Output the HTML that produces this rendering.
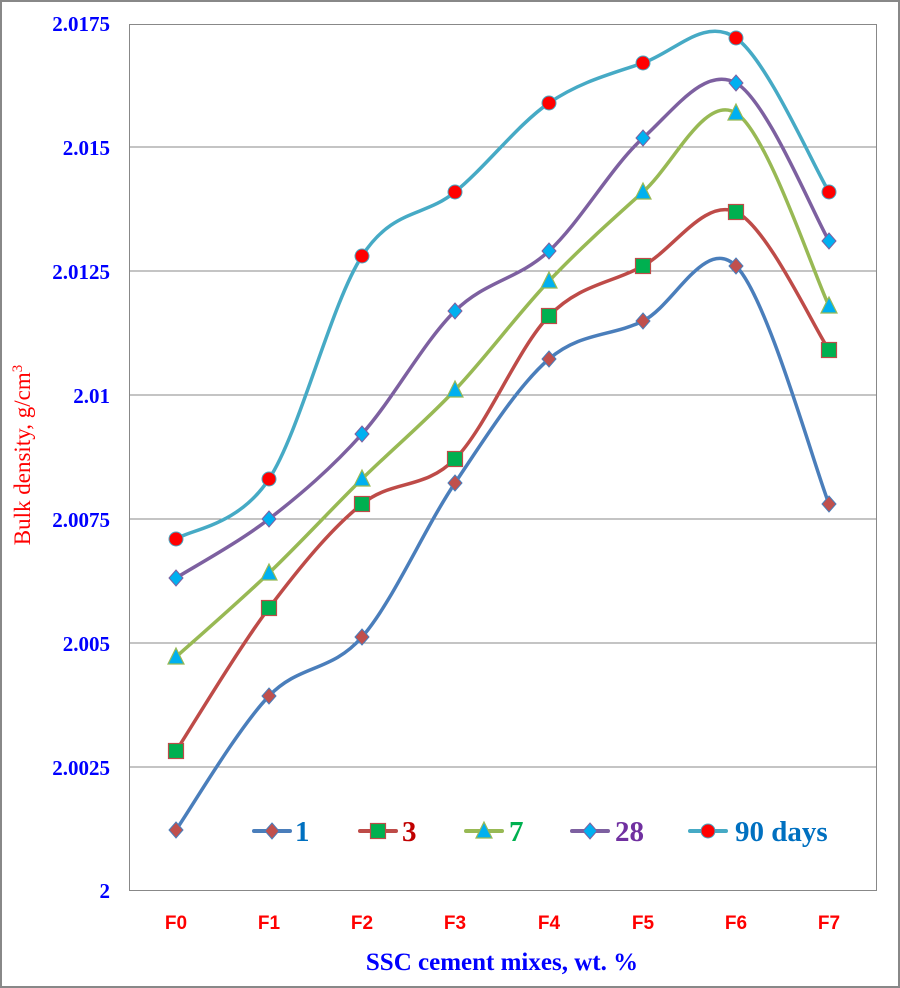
<!DOCTYPE html>
<html><head><meta charset="utf-8"><style>
html,body{margin:0;padding:0;background:#fff}
svg{display:block}
</style></head><body>
<svg id="s" width="900" height="988" xmlns="http://www.w3.org/2000/svg">
<rect x="1" y="1" width="898" height="986" fill="#fff" stroke="#888" stroke-width="2"/>
<g stroke="#888" stroke-width="1">
<line x1="129" y1="147" x2="877" y2="147"/>
<line x1="129" y1="271" x2="877" y2="271"/>
<line x1="129" y1="395" x2="877" y2="395"/>
<line x1="129" y1="519" x2="877" y2="519"/>
<line x1="129" y1="643" x2="877" y2="643"/>
<line x1="129" y1="767" x2="877" y2="767"/>
</g>
<rect x="129.5" y="24.5" width="747" height="866" fill="none" stroke="#888" stroke-width="1"/>
<g font-family="Liberation Serif, serif" font-weight="bold" font-size="21" fill="#0000ff" text-anchor="end">
<text x="110" y="31">2.0175</text>
<text x="110" y="155">2.015</text>
<text x="110" y="279">2.0125</text>
<text x="110" y="403">2.01</text>
<text x="110" y="527">2.0075</text>
<text x="110" y="651">2.005</text>
<text x="110" y="775">2.0025</text>
<text x="110" y="898">2</text>
</g>
<g font-family="Liberation Sans, sans-serif" font-weight="bold" font-size="19" fill="#ff0000" text-anchor="middle">
<text x="176" y="929">F0</text><text x="269" y="929">F1</text><text x="362" y="929">F2</text><text x="455" y="929">F3</text>
<text x="549" y="929">F4</text><text x="643" y="929">F5</text><text x="736" y="929">F6</text><text x="829" y="929">F7</text>
</g>
<text x="502" y="970" font-family="Liberation Serif, serif" font-weight="bold" font-size="25" fill="#0000ff" text-anchor="middle">SSC cement mixes, wt. %</text>
<text transform="translate(30,455) rotate(-90)" font-family="Liberation Serif, serif" font-size="23" fill="#ff0000" text-anchor="middle">Bulk density, g/cm<tspan baseline-shift="super" font-size="15">3</tspan></text>
<g id="series"></g>
<g id="legend" font-family="Liberation Serif, serif" font-weight="bold" font-size="29"></g>
</svg>
<script>
var xs=[176,269,362,455,549,643,736,829];
var S=[
{c:"#4A7EBB",m:"d",f:"#C0504D",st:"#4A7EBB",y:[830,696,637,483,359,321,266,504],lab:"1",lc:"#0070C0"},
{c:"#BE4B48",m:"s",f:"#00B050",st:"#BE4B48",y:[751,608,504,459,316,266,212,350],lab:"3",lc:"#C00000"},
{c:"#98B954",m:"t",f:"#00B0F0",st:"#98B954",y:[657,573,479,390,281,192,113,306],lab:"7",lc:"#00B050"},
{c:"#7D60A0",m:"d",f:"#00B0F0",st:"#7D60A0",y:[578,519,434,311,251,138,83,241],lab:"28",lc:"#7030A0"},
{c:"#46AAC5",m:"c",f:"#FF0000",st:"#46AAC5",y:[539,479,256,192,103,63,38,192],lab:"90 days",lc:"#0070C0"}];
var NS="http://www.w3.org/2000/svg";
function el(t,a,p){var e=document.createElementNS(NS,t);for(var k in a)e.setAttribute(k,a[k]);p.appendChild(e);return e;}
function marker(m,x,y,f,st,p){
 if(m=="d")el("polygon",{points:(x)+","+(y-8)+" "+(x+7)+","+y+" "+x+","+(y+8)+" "+(x-7)+","+y,fill:f,stroke:st,"stroke-width":1},p);
 else if(m=="s")el("rect",{x:x-7.5,y:y-7.5,width:15,height:15,fill:f,stroke:st,"stroke-width":1.2},p);
 else if(m=="t")el("polygon",{points:x+","+(y-9)+" "+(x+8)+","+(y+7)+" "+(x-8)+","+(y+7),fill:f,stroke:st,"stroke-width":1.2},p);
 else el("circle",{cx:x,cy:y,r:7,fill:f,stroke:st,"stroke-width":1},p);
}
var g=document.getElementById("series");
S.forEach(function(s){
 var P=xs.map(function(x,i){return[x,s.y[i]]});
 var d="M"+P[0][0]+","+P[0][1];
 for(var i=0;i<P.length-1;i++){
  var p0=P[i-1]||P[i],p1=P[i],p2=P[i+1],p3=P[i+2]||P[i+1];
  var c1=[p1[0]+(p2[0]-p0[0])/6,p1[1]+(p2[1]-p0[1])/6];
  var c2=[p2[0]-(p3[0]-p1[0])/6,p2[1]-(p3[1]-p1[1])/6];
  d+=" C"+c1[0]+","+c1[1]+" "+c2[0]+","+c2[1]+" "+p2[0]+","+p2[1];
 }
 el("path",{d:d,fill:"none",stroke:s.c,"stroke-width":3.5,"stroke-linecap":"round"},g);
});
S.forEach(function(s){xs.forEach(function(x,i){marker(s.m,x,s.y[i],s.f,s.st,g)})});
var L=document.getElementById("legend");
var lx=[254,360,466,572,690], tx=[295,402,509,615,735];
S.forEach(function(s,i){
 var x=lx[i];
 el("line",{x1:x,y1:831,x2:x+36,y2:831,stroke:s.c,"stroke-width":4,"stroke-linecap":"round"},L);
 marker(s.m,x+18,831,s.f,s.st,L);
 var t=el("text",{x:tx[i],y:841,fill:s.lc},L);t.textContent=s.lab;
});
</script>
</body></html>
